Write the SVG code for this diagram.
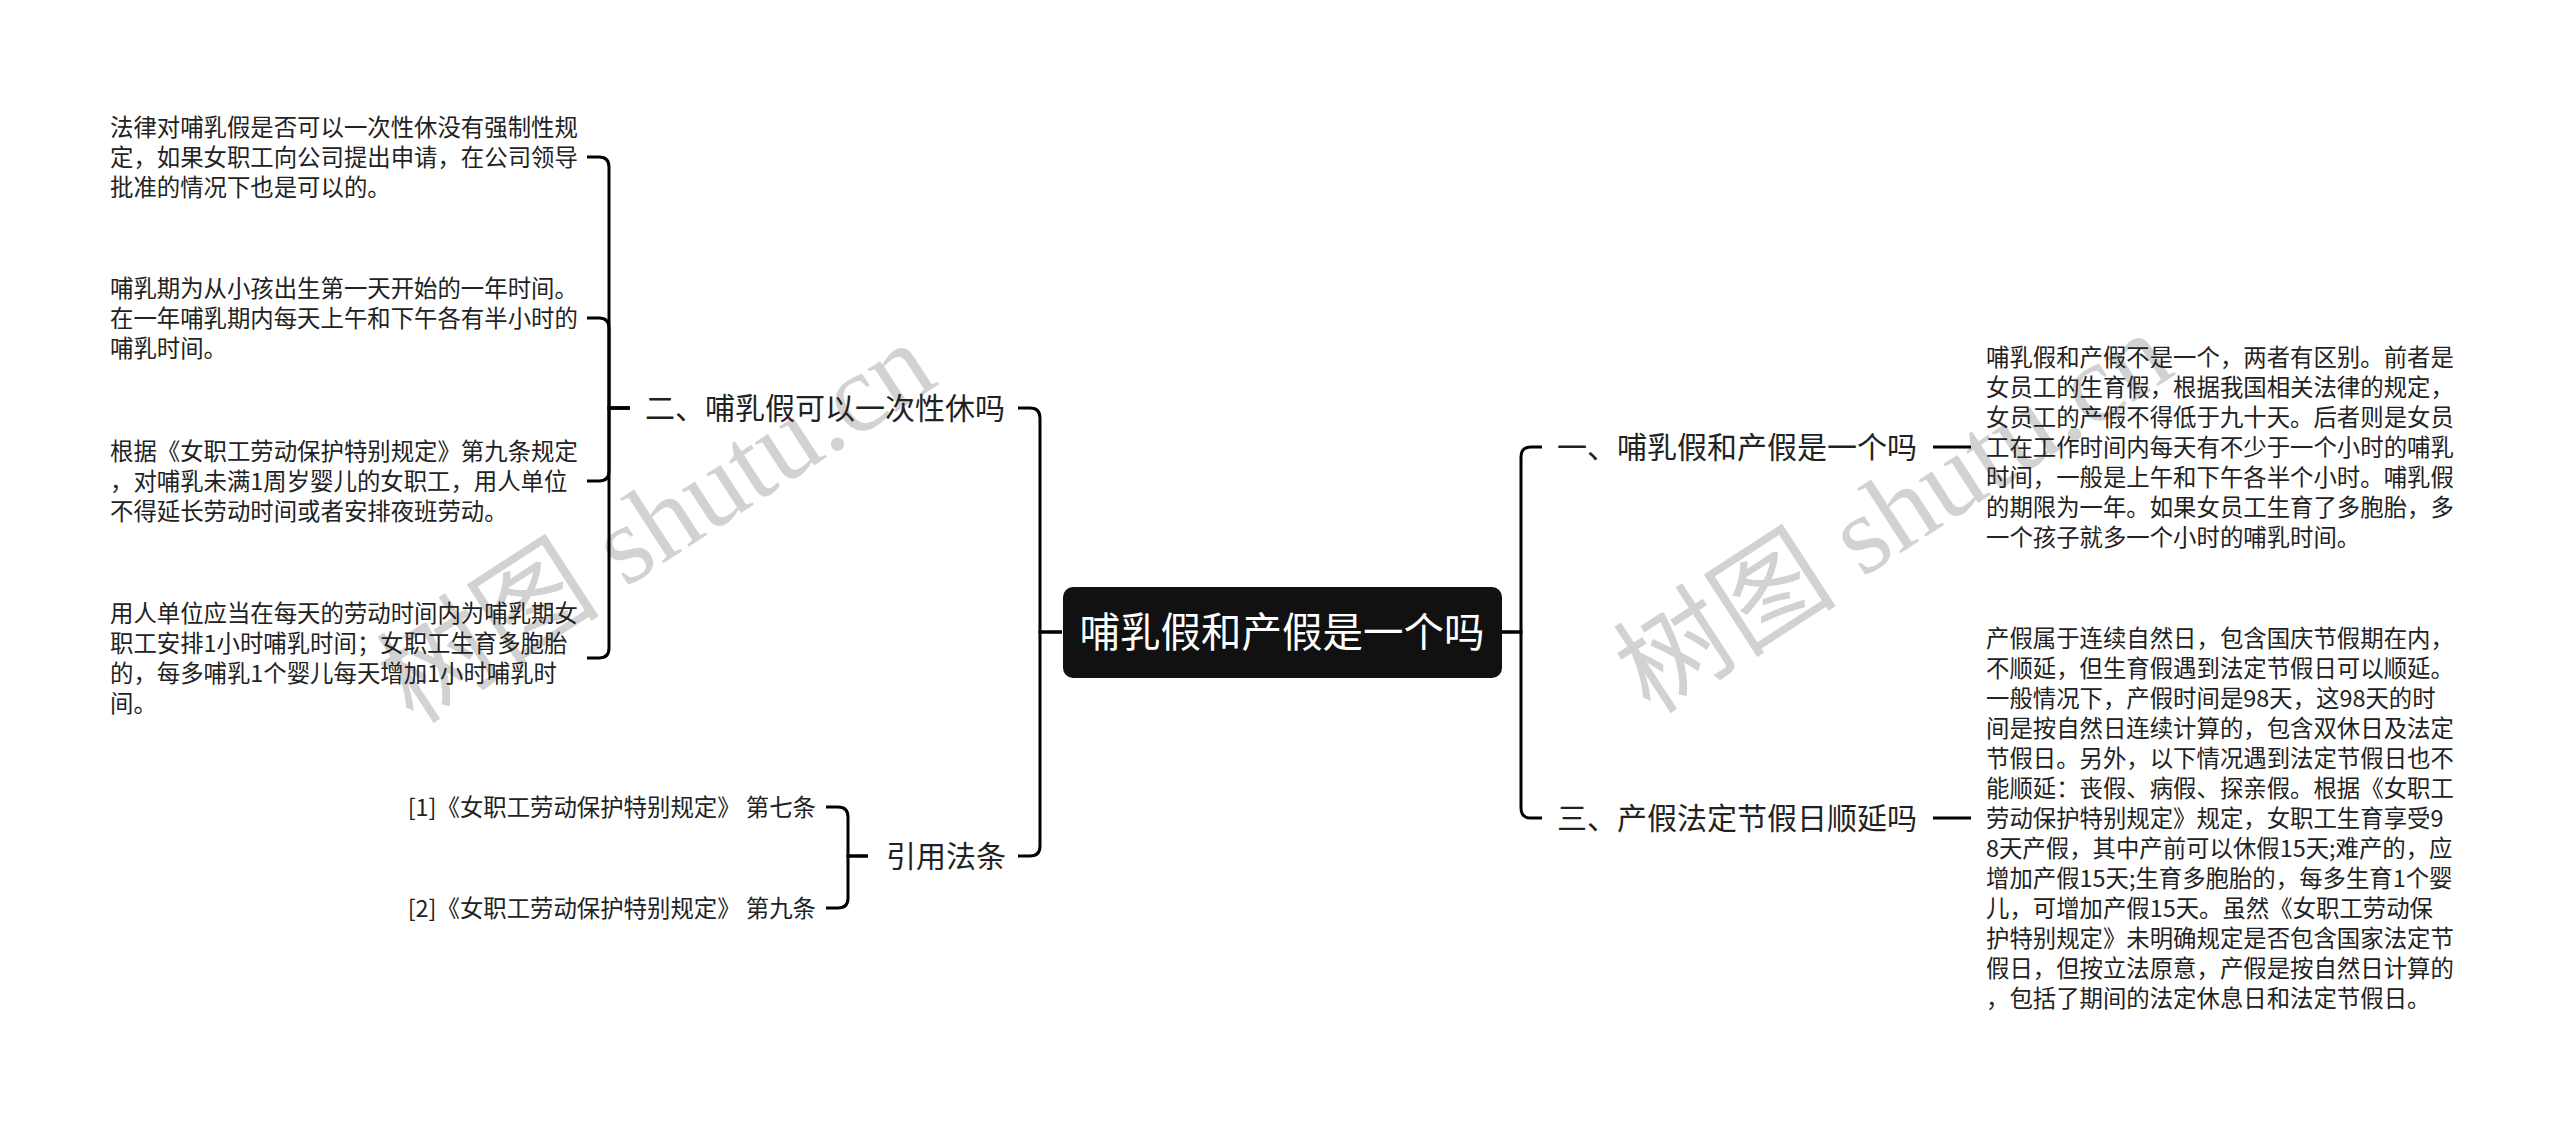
<svg xmlns="http://www.w3.org/2000/svg" width="2560" height="1123" viewBox="0 0 2560 1123">
<style>
.bg{fill:#ffffff}
.wm{font-family:"Liberation Serif","Noto Sans CJK SC",serif;font-size:112px;fill:#d2d2d2}
.t{font-family:"Noto Sans CJK SC","Noto Sans",sans-serif;fill:#222222}
.leaf{font-size:23.4px}
.sub{font-size:30px}
.root{font-family:"Noto Sans CJK SC","Noto Sans",sans-serif;font-size:40.5px;fill:#ffffff}
.c{fill:none;stroke:#000000;stroke-width:3}
</style>
<rect class="bg" x="0" y="0" width="2560" height="1123"/>
<g id="watermarks">
<text class="wm" x="658" y="560" text-anchor="middle" transform="rotate(-33 658 525)">树图 shutu.cn</text>
<text class="wm" x="1895" y="550" text-anchor="middle" transform="rotate(-33 1895 515)">树图 shutu.cn</text>
</g>
<g id="connectors">
<path class="c" d="M1062 632 H1040 V418 Q1040 408 1030 408 H1018"/>
<path class="c" d="M1062 632 H1040 V846 Q1040 856 1030 856 H1018"/>
<path class="c" d="M630 408 H609 V167 Q609 157 599 157 H587"/>
<path class="c" d="M630 408 H609 V328 Q609 318 599 318 H587"/>
<path class="c" d="M630 408 H609 V471 Q609 481 599 481 H587"/>
<path class="c" d="M630 408 H609 V648 Q609 658 599 658 H587"/>
<path class="c" d="M868 856 H848 V817 Q848 807 838 807 H826"/>
<path class="c" d="M868 856 H848 V898 Q848 908 838 908 H826"/>
<path class="c" d="M1502 632 H1521 V457 Q1521 447 1531 447 H1542"/>
<path class="c" d="M1502 632 H1521 V808 Q1521 818 1531 818 H1542"/>
<path class="c" d="M1933 447 H1971"/>
<path class="c" d="M1933 818 H1971"/>
</g>
<g id="root">
<rect x="1063" y="587" width="439" height="91" rx="10" ry="10" fill="#111111"/>
<text class="root" x="1282" y="647" text-anchor="middle">哺乳假和产假是一个吗</text>
</g>
<g id="n2">
<text class="t sub" x="645" y="419">二、哺乳假可以一次性休吗</text>
</g>
<g id="n2a">
<text class="t leaf"><tspan x="110" y="136">法律对哺乳假是否可以一次性休没有强制性规</tspan><tspan x="110" y="166">定，如果女职工向公司提出申请，在公司领导</tspan><tspan x="110" y="196">批准的情况下也是可以的。</tspan></text>
</g>
<g id="n2b">
<text class="t leaf"><tspan x="110" y="297">哺乳期为从小孩出生第一天开始的一年时间。</tspan><tspan x="110" y="327">在一年哺乳期内每天上午和下午各有半小时的</tspan><tspan x="110" y="357">哺乳时间。</tspan></text>
</g>
<g id="n2c">
<text class="t leaf"><tspan x="110" y="460">根据《女职工劳动保护特别规定》第九条规定</tspan><tspan x="110" y="490">，对哺乳未满1周岁婴儿的女职工，用人单位</tspan><tspan x="110" y="520">不得延长劳动时间或者安排夜班劳动。</tspan></text>
</g>
<g id="n2d">
<text class="t leaf"><tspan x="110" y="622">用人单位应当在每天的劳动时间内为哺乳期女</tspan><tspan x="110" y="652">职工安排1小时哺乳时间；女职工生育多胞胎</tspan><tspan x="110" y="682">的，每多哺乳1个婴儿每天增加1小时哺乳时</tspan><tspan x="110" y="712">间。</tspan></text>
</g>
<g id="nref">
<text class="t sub" x="886" y="867">引用法条</text>
</g>
<g id="nref1">
<text class="t leaf" x="816" y="816" text-anchor="end">[1]《女职工劳动保护特别规定》 第七条</text>
</g>
<g id="nref2">
<text class="t leaf" x="816" y="917" text-anchor="end">[2]《女职工劳动保护特别规定》 第九条</text>
</g>
<g id="n1">
<text class="t sub" x="1557" y="458">一、哺乳假和产假是一个吗</text>
</g>
<g id="n1a">
<text class="t leaf"><tspan x="1986" y="366">哺乳假和产假不是一个，两者有区别。前者是</tspan><tspan x="1986" y="396">女员工的生育假，根据我国相关法律的规定，</tspan><tspan x="1986" y="426">女员工的产假不得低于九十天。后者则是女员</tspan><tspan x="1986" y="456">工在工作时间内每天有不少于一个小时的哺乳</tspan><tspan x="1986" y="486">时间，一般是上午和下午各半个小时。哺乳假</tspan><tspan x="1986" y="516">的期限为一年。如果女员工生育了多胞胎，多</tspan><tspan x="1986" y="546">一个孩子就多一个小时的哺乳时间。</tspan></text>
</g>
<g id="n3">
<text class="t sub" x="1557" y="829">三、产假法定节假日顺延吗</text>
</g>
<g id="n3a">
<text class="t leaf"><tspan x="1986" y="647">产假属于连续自然日，包含国庆节假期在内，</tspan><tspan x="1986" y="677">不顺延，但生育假遇到法定节假日可以顺延。</tspan><tspan x="1986" y="707">一般情况下，产假时间是98天，这98天的时</tspan><tspan x="1986" y="737">间是按自然日连续计算的，包含双休日及法定</tspan><tspan x="1986" y="767">节假日。另外，以下情况遇到法定节假日也不</tspan><tspan x="1986" y="797">能顺延：丧假、病假、探亲假。根据《女职工</tspan><tspan x="1986" y="827">劳动保护特别规定》规定，女职工生育享受9</tspan><tspan x="1986" y="857">8天产假，其中产前可以休假15天;难产的，应</tspan><tspan x="1986" y="887">增加产假15天;生育多胞胎的，每多生育1个婴</tspan><tspan x="1986" y="917">儿，可增加产假15天。虽然《女职工劳动保</tspan><tspan x="1986" y="947">护特别规定》未明确规定是否包含国家法定节</tspan><tspan x="1986" y="977">假日，但按立法原意，产假是按自然日计算的</tspan><tspan x="1986" y="1007">，包括了期间的法定休息日和法定节假日。</tspan></text>
</g>
</svg>
